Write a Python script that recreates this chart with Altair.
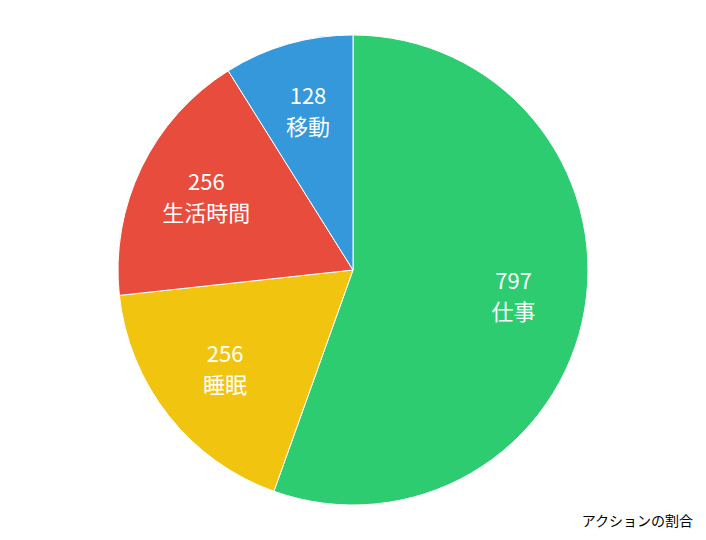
import altair as alt
import pandas as pd

categories = ["仕事", "睡眠", "生活時間", "移動"]
values = [797, 256, 256, 128]
colors = ["#2ECC71", "#F1C40F", "#E74C3C", "#3498DB"]
title_text = "アクションの割合"

df = pd.DataFrame({
    "cat": categories,
    "val": values,
    "idx": list(range(len(categories))),
})
df["label"] = [f"{v}\n{c}" for v, c in zip(values, categories)]

base = alt.Chart(df).encode(
    theta=alt.Theta("val:Q", stack=True),
    order=alt.Order("idx:Q", sort="ascending"),
)

arcs = base.mark_arc(outerRadius=235, stroke="white", strokeWidth=1).encode(
    color=alt.Color("cat:N", scale=alt.Scale(domain=categories, range=colors), legend=None)
)

labels = base.mark_text(
    radius=163, fontSize=22, color="white", lineBreak="\n", lineHeight=31, dy=-16,
    font="Noto Sans CJK JP", baseline="middle", align="center"
).encode(text="label:N")

title = alt.Chart(pd.DataFrame({"t": [title_text]})).mark_text(
    fontSize=14, color="black", align="right", baseline="alphabetic", font="Noto Sans CJK JP"
).encode(text="t:N", x=alt.value(685), y=alt.value(518))

chart = alt.layer(arcs, labels, title).properties(
    width=690, height=524, padding=0, autosize=alt.AutoSizeParams(type="none")
).configure_view(stroke=None)

chart.save("out.html", embed_options={"renderer": "svg", "actions": False})
